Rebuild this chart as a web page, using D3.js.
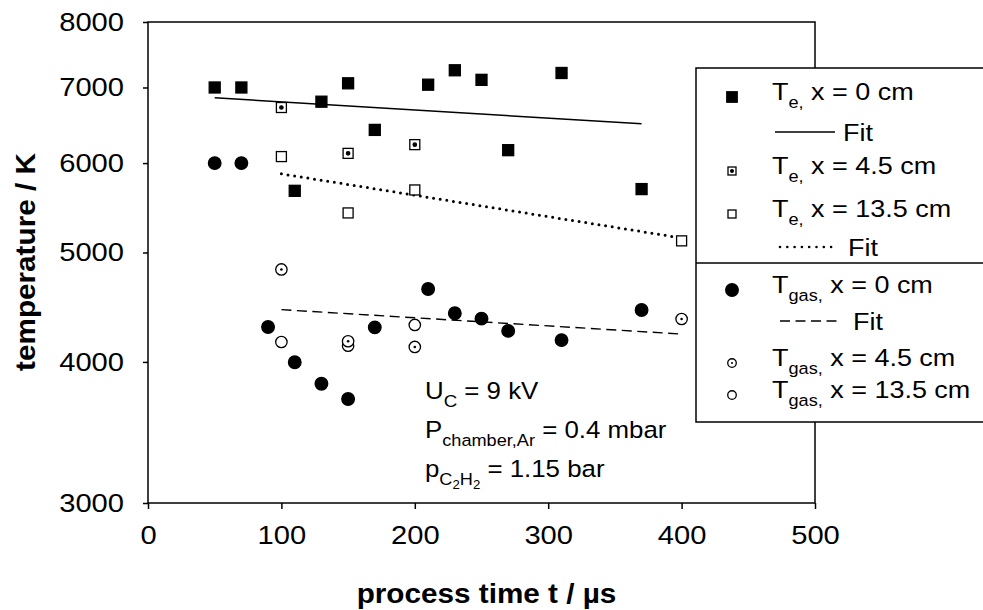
<!DOCTYPE html>
<html>
<head>
<meta charset="utf-8">
<script src="https://cdn.jsdelivr.net/npm/d3@7"></script>
<style>
  body { margin: 0; background: #fff; }
  text { font-family: "Liberation Sans", Arial, sans-serif; fill: #000; }
</style>
</head>
<body>
<div id="chart"></div>
<script>
// data
const teX0Time = [50, 70, 110, 130, 150, 170, 210, 230, 250, 270, 310, 370];
const teX0 = [7000, 7000, 5670, 6800, 7060, 6420, 7040, 7250, 7110, 6160, 7210, 5690];
const te45Time = [100, 150, 200];
const te45 = [6720, 6120, 6230];
const te135Time = [100, 150, 200, 400];
const te135 = [6080, 5420, 5680, 5120];
const gasX0Time = [50, 70, 90, 110, 130, 150, 170, 210, 230, 250, 270, 310, 370];
const gasX0 = [6000, 6000, 4295, 3997, 3826, 3709, 4292, 4641, 4417, 4369, 4261, 4182, 4447];
const gas45Time = [100, 150, 200, 400];
const gas45 = [4830, 4172, 4124, 4366];
const gas135Time = [100, 150, 200];
const gas135 = [4166, 4135, 4313];
const fitTeX0Time = [50, 370];
const fitTeX0 = [6855, 6500];
const fitTe135Time = [100, 400];
const fitTe135 = [5870, 5150];
const fitGasTime = [100, 400];
const fitGas = [4450, 4234];
const xTicks = [0, 100, 200, 300, 400, 500];
const yTicks = [3000, 4000, 5000, 6000, 7000, 8000];

const width = 983, height = 610;
const margin = { top: 22, right: 168, bottom: 107, left: 148 };
const SX = 1.1; // text in the picture is a bit wider than plain Arial

const svg = d3.select("#chart").append("svg")
  .attr("width", width)
  .attr("height", height);

const x = d3.scaleLinear().domain([0, 500]).range([margin.left, width - margin.right]);
const y = d3.scaleLog().domain([3000, 8000]).range([height - margin.bottom, margin.top]);

// axes
const xAxis = svg.append("g")
  .attr("transform", `translate(0,${y(3000)})`)
  .call(d3.axisBottom(x).tickValues(xTicks).tickSize(6).tickSizeOuter(0).tickFormat(d3.format("d")));
xAxis.select(".domain").remove();
xAxis.selectAll("line").attr("stroke-width", 1.5);
xAxis.selectAll("text")
  .attr("y", 22)
  .attr("font-size", 26.5)
  .attr("transform", `scale(${SX},1)`);

const yAxis = svg.append("g")
  .attr("transform", `translate(${x(0)},0)`)
  .call(d3.axisLeft(y).tickValues(yTicks).tickSize(5).tickSizeOuter(0).tickFormat(d3.format("d")));
yAxis.select(".domain").remove();
yAxis.selectAll("line").attr("stroke-width", 1.5);
yAxis.selectAll("text")
  .attr("x", -24 / SX)
  .attr("font-size", 26.5)
  .attr("transform", `scale(${SX},1)`);

svg.selectAll(".tick text").attr("font-family", "'Liberation Sans', Arial, sans-serif").attr("fill", "#000");

// frame
svg.append("rect")
  .attr("x", x(0)).attr("y", y(8000))
  .attr("width", x(500) - x(0)).attr("height", y(3000) - y(8000))
  .attr("fill", "none").attr("stroke", "#000").attr("stroke-width", 1.5);

// axis titles
svg.append("g")
  .attr("transform", `translate(${(x(0) + x(500)) / 2 + 5},603) scale(${SX},1)`)
  .append("text").attr("text-anchor", "middle").attr("font-weight", "bold").attr("font-size", 27)
  .text("process time t / µs");

svg.append("g")
  .attr("transform", `translate(35,262) rotate(-90) scale(${SX},1)`)
  .append("text").attr("text-anchor", "middle").attr("font-weight", "bold").attr("font-size", 27)
  .text("temperature / K");

// fit lines
const line = d3.line().x(d => x(d[0])).y(d => y(d[1]));
svg.append("path").datum(d3.zip(fitTeX0Time, fitTeX0)).attr("d", line)
  .attr("fill", "none").attr("stroke", "#000").attr("stroke-width", 1.5);
svg.append("path").datum(d3.zip(fitTe135Time, fitTe135)).attr("d", line)
  .attr("fill", "none").attr("stroke", "#000").attr("stroke-width", 3)
  .attr("stroke-linecap", "round").attr("stroke-dasharray", "0,6.7");
svg.append("path").datum(d3.zip(fitGasTime, fitGas)).attr("d", line)
  .attr("fill", "none").attr("stroke", "#000").attr("stroke-width", 1.4)
  .attr("stroke-dasharray", "10,5.5");

// markers
function square(g, cx, cy, s, fill) {
  g.append("rect").attr("x", cx - s / 2).attr("y", cy - s / 2).attr("width", s).attr("height", s)
    .attr("fill", fill).attr("stroke", "#000").attr("stroke-width", 1.3);
}
function circle(g, cx, cy, r, fill) {
  g.append("circle").attr("cx", cx).attr("cy", cy).attr("r", r)
    .attr("fill", fill).attr("stroke", "#000").attr("stroke-width", 1.3);
}
const marks = {
  sqFilled: (g, cx, cy, k) => square(g, cx, cy, 11 * k, "#000"),
  sqDot: (g, cx, cy, k) => { square(g, cx, cy, 10 * k, "#fff"); circle(g, cx, cy, 1.7 * k, "#000"); },
  sqOpen: (g, cx, cy, k) => square(g, cx, cy, 10 * k, "#fff"),
  ciFilled: (g, cx, cy, k) => circle(g, cx, cy, 6.3 * k, "#000"),
  ciDot: (g, cx, cy, k) => { circle(g, cx, cy, 5.7 * k, "#fff"); g.append("circle").attr("cx", cx).attr("cy", cy).attr("r", 1.3 * k).attr("fill", "#000"); },
  ciOpen: (g, cx, cy, k) => circle(g, cx, cy, 5.7 * k, "#fff")
};

const series = [
  { t: gas135Time, v: gas135, m: "ciOpen" },
  { t: gas45Time, v: gas45, m: "ciDot" },
  { t: gasX0Time, v: gasX0, m: "ciFilled" },
  { t: te135Time, v: te135, m: "sqOpen" },
  { t: te45Time, v: te45, m: "sqDot" },
  { t: teX0Time, v: teX0, m: "sqFilled" }
];
const pts = svg.append("g");
series.forEach(s => {
  s.t.forEach((t, i) => marks[s.m](pts, x(t), y(s.v[i]), 1));
});

// annotation
function richText(parent, px, py, parts, size, subSize) {
  const g = parent.append("g").attr("transform", `translate(${px},${py}) scale(${SX},1)`);
  const t = g.append("text").attr("font-size", size);
  parts.forEach(p => {
    const ts = t.append("tspan").text(p[0]);
    if (p[1] === "sub") ts.attr("font-size", subSize).attr("dy", 8);
    else if (p[1] === "up") ts.attr("dy", -8);
  });
  return t;
}
richText(svg, 425, 399, [["U"], ["C", "sub"], [" = 9 kV", "up"]], 23.5, 17);
richText(svg, 425, 438, [["P"], ["chamber,Ar", "sub"], [" = 0.4 mbar", "up"]], 23.5, 16.5);
const pl = richText(svg, 425, 477, [["p"], ["C", "sub"]], 23.5, 16.5);
pl.append("tspan").attr("font-size", 12).attr("dy", 4).text("2");
pl.append("tspan").attr("font-size", 16.5).attr("dy", -4).text("H");
pl.append("tspan").attr("font-size", 12).attr("dy", 4).text("2");
pl.append("tspan").attr("dy", -12).text(" = 1.15 bar");

// legend
const lg = svg.append("g");
lg.append("rect").attr("x", 696).attr("y", 68).attr("width", 300).attr("height", 354)
  .attr("fill", "#fff").attr("stroke", "#000").attr("stroke-width", 1.5);
lg.append("line").attr("x1", 696).attr("x2", 990).attr("y1", 263).attr("y2", 263)
  .attr("stroke", "#000").attr("stroke-width", 1.5);

const legendRows = [
  { y: 91, m: "sqFilled", k: 0.95, main: "T", sub: "e,", rest: " x = 0 cm" },
  { y: 132, line: "solid", x1: 775, x2: 835, tx: 843 },
  { y: 165, m: "sqDot", k: 0.8, main: "T", sub: "e,", rest: " x = 4.5 cm" },
  { y: 208, m: "sqOpen", k: 0.8, main: "T", sub: "e,", rest: " x = 13.5 cm" },
  { y: 247, line: "dot", x1: 780, x2: 835, tx: 848 },
  { y: 284, m: "ciFilled", k: 1, main: "T", sub: "gas,", rest: " x = 0 cm" },
  { y: 321, line: "dash", x1: 780, x2: 842, tx: 853 },
  { y: 357, m: "ciDot", k: 0.75, main: "T", sub: "gas,", rest: " x = 4.5 cm" },
  { y: 389, m: "ciOpen", k: 0.75, main: "T", sub: "gas,", rest: " x = 13.5 cm" }
];
legendRows.forEach(r => {
  if (r.m) {
    marks[r.m](lg, 732, r.y + 6, r.k);
    richText(lg, 772, r.y + 8.5, [[r.main], [r.sub, "sub"], [r.rest, "up"]], 24.5, 16.5);
  } else {
    const ln = lg.append("line").attr("x1", r.x1).attr("x2", r.x2).attr("y1", r.y).attr("y2", r.y)
      .attr("stroke", "#000");
    if (r.line === "solid") ln.attr("stroke-width", 1.5);
    if (r.line === "dot") ln.attr("stroke-width", 2.6).attr("stroke-linecap", "round").attr("stroke-dasharray", "0,7.3");
    if (r.line === "dash") ln.attr("stroke-width", 1.4).attr("stroke-dasharray", "10,5.5");
    richText(lg, r.tx, r.y + 8.5, [["Fit"]], 24.5, 16.5);
  }
});
</script>
</body>
</html>
